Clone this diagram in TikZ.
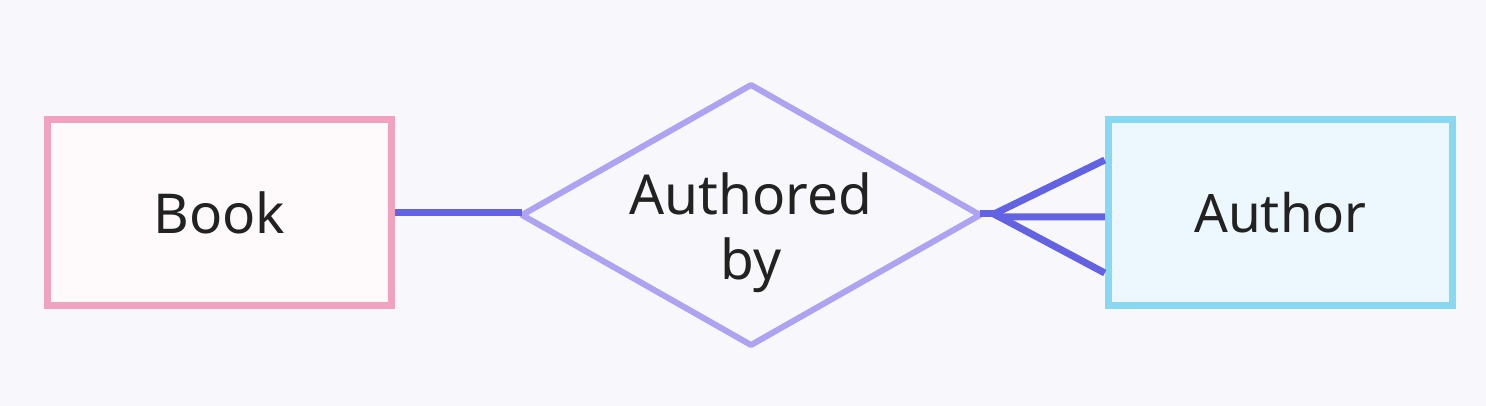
\documentclass[tikz,border=0pt]{standalone}
\usepackage{fontspec}
\setmainfont{Noto Sans}
\usetikzlibrary{shapes.geometric}
\definecolor{bg}{HTML}{F8F8FC}
\definecolor{bookline}{HTML}{F0A2BE}
\definecolor{bookfill}{HTML}{FEFAFC}
\definecolor{authline}{HTML}{88D8F2}
\definecolor{authfill}{HTML}{ECF8FE}
\definecolor{relline}{HTML}{AEA2F2}
\definecolor{conn}{HTML}{6262E2}
\definecolor{txt}{HTML}{222222}
\tikzset{
  entity/.style={draw, line width=7.5pt, minimum width=344pt, minimum height=186pt, inner sep=0pt, text=txt, font=\fontsize{55}{66}\selectfont},
  relation/.style={draw=relline, fill=bg, line width=6pt, line join=round, inner sep=0pt, text=txt, font=\fontsize{55}{66}\selectfont, align=center},
  link/.style={draw=conn, line width=7pt}
}
\begin{document}
\begin{tikzpicture}[x=1pt,y=-1pt]
\fill[bg] (0,0) rectangle (1486,406);
\useasboundingbox (0,0) rectangle (1486,406);
\node[entity, draw=bookline, fill=bookfill] (book) at (219.5,212.5) {Book};
\node[entity, draw=authline, fill=authfill] (author) at (1280.5,212.5) {\fontsize{53}{64}\selectfont Author};
\draw[relation] (522,215) coordinate (dl) -- (751,85) -- (980,215) coordinate (dr) -- (751,345) -- cycle;
\node[relation, draw=none, fill=none] (rel) at (751,233) {Authored\\[-1pt]by};
\draw[link] (book.east |- 0,213) -- (dl |- 0,213);
\coordinate (j) at (994,214);
\draw[link] (dr |- 0,214) -- (j);
\draw[link] (j) -- (author.west |- 0,160);
\draw[link] (j) -- (1000,217) -- (author.west |- 0,217);
\draw[link] (j) -- (author.west |- 0,273);
\end{tikzpicture}
\end{document}
